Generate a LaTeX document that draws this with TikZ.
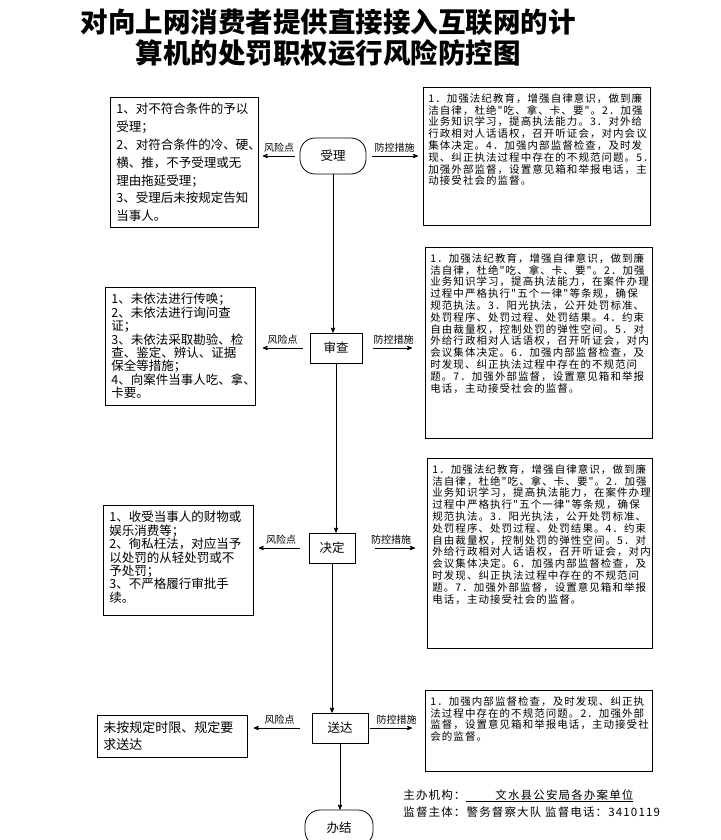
\documentclass[tikz,border=0pt]{standalone}
\usepackage{fontspec}
\newfontfamily\cjk{Noto Sans CJK SC}
\newfontfamily\cjkwide{Noto Sans CJK SC}[LetterSpace=10]
\usetikzlibrary{arrows}
\tikzset{
	box/.style = {draw=black, line width=0.8pt, inner xsep=6pt, inner ysep=6pt, 
		anchor=north west},
	riskbox/.style = {box, font=\cjk\fontsize{12.5pt}{17.8pt}\selectfont},
	riskbox2/.style = {box, font=\cjk\fontsize{12.5pt}{13.4pt}\selectfont},
	ctrlbox/.style = {box, inner xsep=5pt, font=\cjkwide\fontsize{10.5pt}{11.8pt}\selectfont},
	stepbox/.style = {draw=black, line width=0.8pt, font=\cjk\fontsize{12.5pt}{14pt}\selectfont, 
		minimum height=30pt, inner sep=0pt},
	endbox/.style = {stepbox, rounded corners=15pt, minimum height=36pt},
	lbl/.style = {font=\cjk\fontsize{10pt}{11pt}\selectfont, above, inner sep=3pt}
}
\newcommand{\boxtext}[3]{\parbox[c][#2][t]{#1}{#3}}

\begin{document}
\begin{tikzpicture}[>=stealth', x=1pt, y=-1pt, line width=0.8pt]
\path[use as bounding box, fill=white] (0,0) rectangle (720,840);
%----------------- Title --------------
\node (title) [font=\cjk\bfseries\fontsize{27.5pt}{31pt}\selectfont, align=center] at (328,38)
	{对向上网消费者提供直接接入互联网的计\\算机的处罚职权运行风险防控图};
%----------------- Steps --------------
\node (sl) [endbox, minimum width=66pt] at (333,156) {受理};
\node (sc) [stepbox, minimum width=52pt] at (336,348) {审查};
\node (jd) [stepbox, minimum width=46pt] at (332,548) {决定};
\node (sd) [stepbox, minimum width=56pt] at (340,728) {送达};
\node (bj) [endbox, minimum width=68pt] at (339,828) {办结};
%----------------- Risk points --------------
\node (r1) [riskbox] at (110,97) {\boxtext{136pt}{118pt}{1、对不符合条件的予以\\受理；\\2、对符合条件的冷、硬、\\横、推，不予受理或无\\理由拖延受理；\\3、受理后未按规定告知\\当事人。}};
\node (r2) [riskbox2] at (105,287) {\boxtext{138pt}{106pt}{1、未依法进行传唤；\\2、未依法进行询问查\\证；\\3、未依法采取勘验、检\\查、鉴定、辨认、证据\\保全等措施；\\4、向案件当事人吃、拿、\\卡要。}};
\node (r3) [riskbox2] at (103,505) {\boxtext{138pt}{98pt}{1、收受当事人的财物或\\娱乐消费等；\\2、徇私枉法，对应当予\\以处罚的从轻处罚或不\\予处罚；\\3、不严格履行审批手\\续。}};
\node (r4) [riskbox, font=\cjk\fontsize{13pt}{17pt}\selectfont] at (97,715) {\boxtext{138pt}{30pt}{未按规定时限、规定要\\求送达}};
%----------------- Control measures --------------
\node (c1) [ctrlbox] at (423,87) {\boxtext{217pt}{126pt}{1．加强法纪教育，增强自律意识，做到廉\\洁自律，杜绝"吃、拿、卡、要"。2．加强\\业务知识学习，提高执法能力。3．对外给\\行政相对人话语权，召开听证会，对内会议\\集体决定。4．加强内部监督检查，及时发\\现、纠正执法过程中存在的不规范问题。5．\\加强外部监督，设置意见箱和举报电话，主\\动接受社会的监督。}};
\node (c2) [ctrlbox] at (425,247) {\boxtext{217pt}{179pt}{1．加强法纪教育，增强自律意识，做到廉\\洁自律，杜绝"吃、拿、卡、要"。2．加强\\业务知识学习，提高执法能力，在案件办理\\过程中严格执行"五个一律"等条规，确保\\规范执法。3．阳光执法，公开处罚标准、\\处罚程序、处罚过程、处罚结果。4．约束\\自由裁量权，控制处罚的弹性空间。5．对\\外给行政相对人话语权，召开听证会，对内\\会议集体决定。6．加强内部监督检查，及\\时发现、纠正执法过程中存在的不规范问\\题。7．加强外部监督，设置意见箱和举报\\电话，主动接受社会的监督。}};
\node (c3) [ctrlbox] at (427,458) {\boxtext{215pt}{178pt}{1．加强法纪教育，增强自律意识，做到廉\\洁自律，杜绝"吃、拿、卡、要"。2．加强\\业务知识学习，提高执法能力，在案件办理\\过程中严格执行"五个一律"等条规，确保\\规范执法。3．阳光执法，公开处罚标准、\\处罚程序、处罚过程、处罚结果。4．约束\\自由裁量权，控制处罚的弹性空间。5．对\\外给行政相对人话语权，召开听证会，对内\\会议集体决定。6．加强内部监督检查，及\\时发现、纠正执法过程中存在的不规范问\\题。7．加强外部监督，设置意见箱和举报\\电话，主动接受社会的监督。}};
\node (c4) [ctrlbox] at (425,690) {\boxtext{217pt}{69pt}{1．加强内部监督检查，及时发现、纠正执\\法过程中存在的不规范问题。2．加强外部\\监督，设置意见箱和举报电话，主动接受社\\会的监督。}};
%----------------- Flow --------------
\draw[->] (sl) -- (sl |- sc.north);
\draw[->] (sc) -- (sc |- jd.north);
\draw[->] (jd) -- (jd |- sd.north);
\draw[->] (sd) -- (sd |- bj.north);
%----------------- Side arrows --------------
\draw[->, shorten <=5pt, shorten >=4pt] (sl) -- (sl -| r1.east) node[lbl, midway] {风险点};
\draw[->, shorten <=6pt, shorten >=5pt] (sl) -- (sl -| c1.west) node[lbl, midway] {防控措施};
\draw[->, shorten <=7pt, shorten >=7pt] (sc) -- (sc -| r2.east) node[lbl, midway] {风险点};
\draw[->, shorten <=11pt, shorten >=13pt] (sc) -- (sc -| c2.west) node[lbl, midway] {防控措施};
\draw[->, shorten <=9pt, shorten >=5pt] (jd) -- (jd -| r3.east) node[lbl, midway] {风险点};
\draw[->, shorten <=20pt, shorten >=12pt] (jd) -- (jd -| c3.west) node[lbl, midway] {防控措施};
\draw[->, shorten <=12pt, shorten >=6pt] (sd) -- (sd -| r4.east) node[lbl, midway] {风险点};
\draw[->, shorten <=2pt, shorten >=13pt] (sd) -- (sd -| c4.west) node[lbl, midway] {防控措施};
%----------------- Footer --------------
\node (org) [anchor=north west, align=left, inner sep=0pt,
	font=\cjkwide\fontsize{11.5pt}{17pt}\selectfont] at (403,789)
	{主办机构：\underline{\hspace{2.6em}文水县公安局各办案单位}\\监督主体：警务督察大队 监督电话：3410119};
\end{tikzpicture}
\end{document}
